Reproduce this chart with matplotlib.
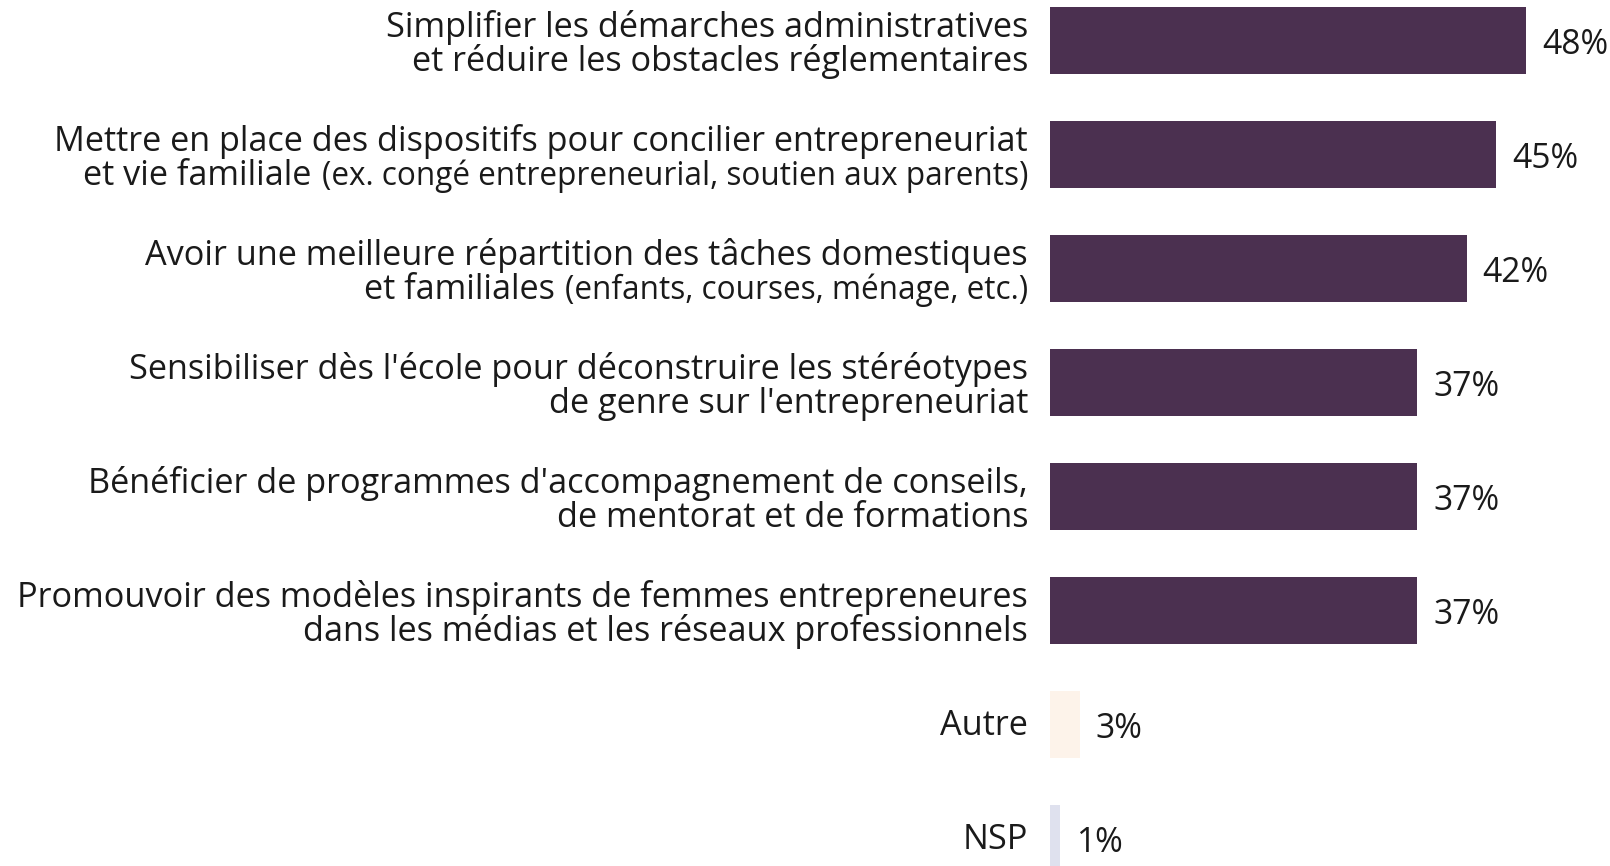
import matplotlib.pyplot as plt

# Données du graphique
lignes_labels = [
    ("Simplifier les démarches administratives", "et réduire les obstacles réglementaires"),
    ("Mettre en place des dispositifs pour concilier entrepreneuriat", "et vie familiale"),
    ("Avoir une meilleure répartition des tâches domestiques", "et familiales"),
    ("Sensibiliser dès l'école pour déconstruire les stéréotypes", "de genre sur l'entrepreneuriat"),
    ("Bénéficier de programmes d'accompagnement de conseils,", "de mentorat et de formations"),
    ("Promouvoir des modèles inspirants de femmes entrepreneures", "dans les médias et les réseaux professionnels"),
    ("Autre",),
    ("NSP",),
]
notes = [None, "(ex. congé entrepreneurial, soutien aux parents)",
         "(enfants, courses, ménage, etc.)", None, None, None, None, None]
valeurs = [48, 45, 42, 37, 37, 37, 3, 1]
couleurs = ["#4b3050"] * 6 + ["#fdf3ea", "#dfe1ee"]

POLICE = ["Open Sans", "DejaVu Sans"]
TAILLE = 24.7
TAILLE_NOTE = 22.7
NOIR = "#1a1a1a"

fig = plt.figure(figsize=(16.1, 8.66), dpi=100)
ax = fig.add_axes([1050 / 1610, 0, 1 - 1050 / 1610, 1])
ax.set_xlim(0, 560 / 9.92)
ax.set_ylim((866 - 40.6) / 114, -40.6 / 114)
ax.axis("off")

y = list(range(len(valeurs)))
ax.barh(y, valeurs, height=0.59, color=couleurs)

px = 0.72  # points par pixel à 100 dpi
for i, (lignes, note, v) in enumerate(zip(lignes_labels, notes, valeurs)):
    # étiquette de valeur
    ax.annotate(f"{v}%", xy=(v, i + 0.12), xytext=(16 * px, 0), textcoords="offset points",
                ha="left", va="baseline", fontsize=TAILLE - 0.5, family=POLICE, color=NOIR,
                annotation_clip=False)
    if len(lignes) == 1:
        bases = [i + 0.095]
    else:
        bases = [i - 0.032, i + 0.268]
    for k, (ligne, base) in enumerate(zip(lignes, bases)):
        dernier = k == len(lignes) - 1
        if dernier and note:
            t_note = ax.annotate(note, xy=(0, base), xytext=(-22 * px, 0), textcoords="offset points",
                                 ha="right", va="baseline", fontsize=TAILLE_NOTE, family=POLICE,
                                 color=NOIR, annotation_clip=False)
            ax.annotate(ligne, xy=(0, base), xycoords=(t_note, "data"), xytext=(-10 * px, 0),
                        textcoords="offset points", ha="right", va="baseline", fontsize=TAILLE,
                        family=POLICE, color=NOIR, annotation_clip=False)
        else:
            ax.annotate(ligne, xy=(0, base), xytext=(-22 * px, 0), textcoords="offset points",
                        ha="right", va="baseline", fontsize=TAILLE, family=POLICE, color=NOIR,
                        annotation_clip=False)

fig.savefig("out.png", dpi=100, facecolor="white")
